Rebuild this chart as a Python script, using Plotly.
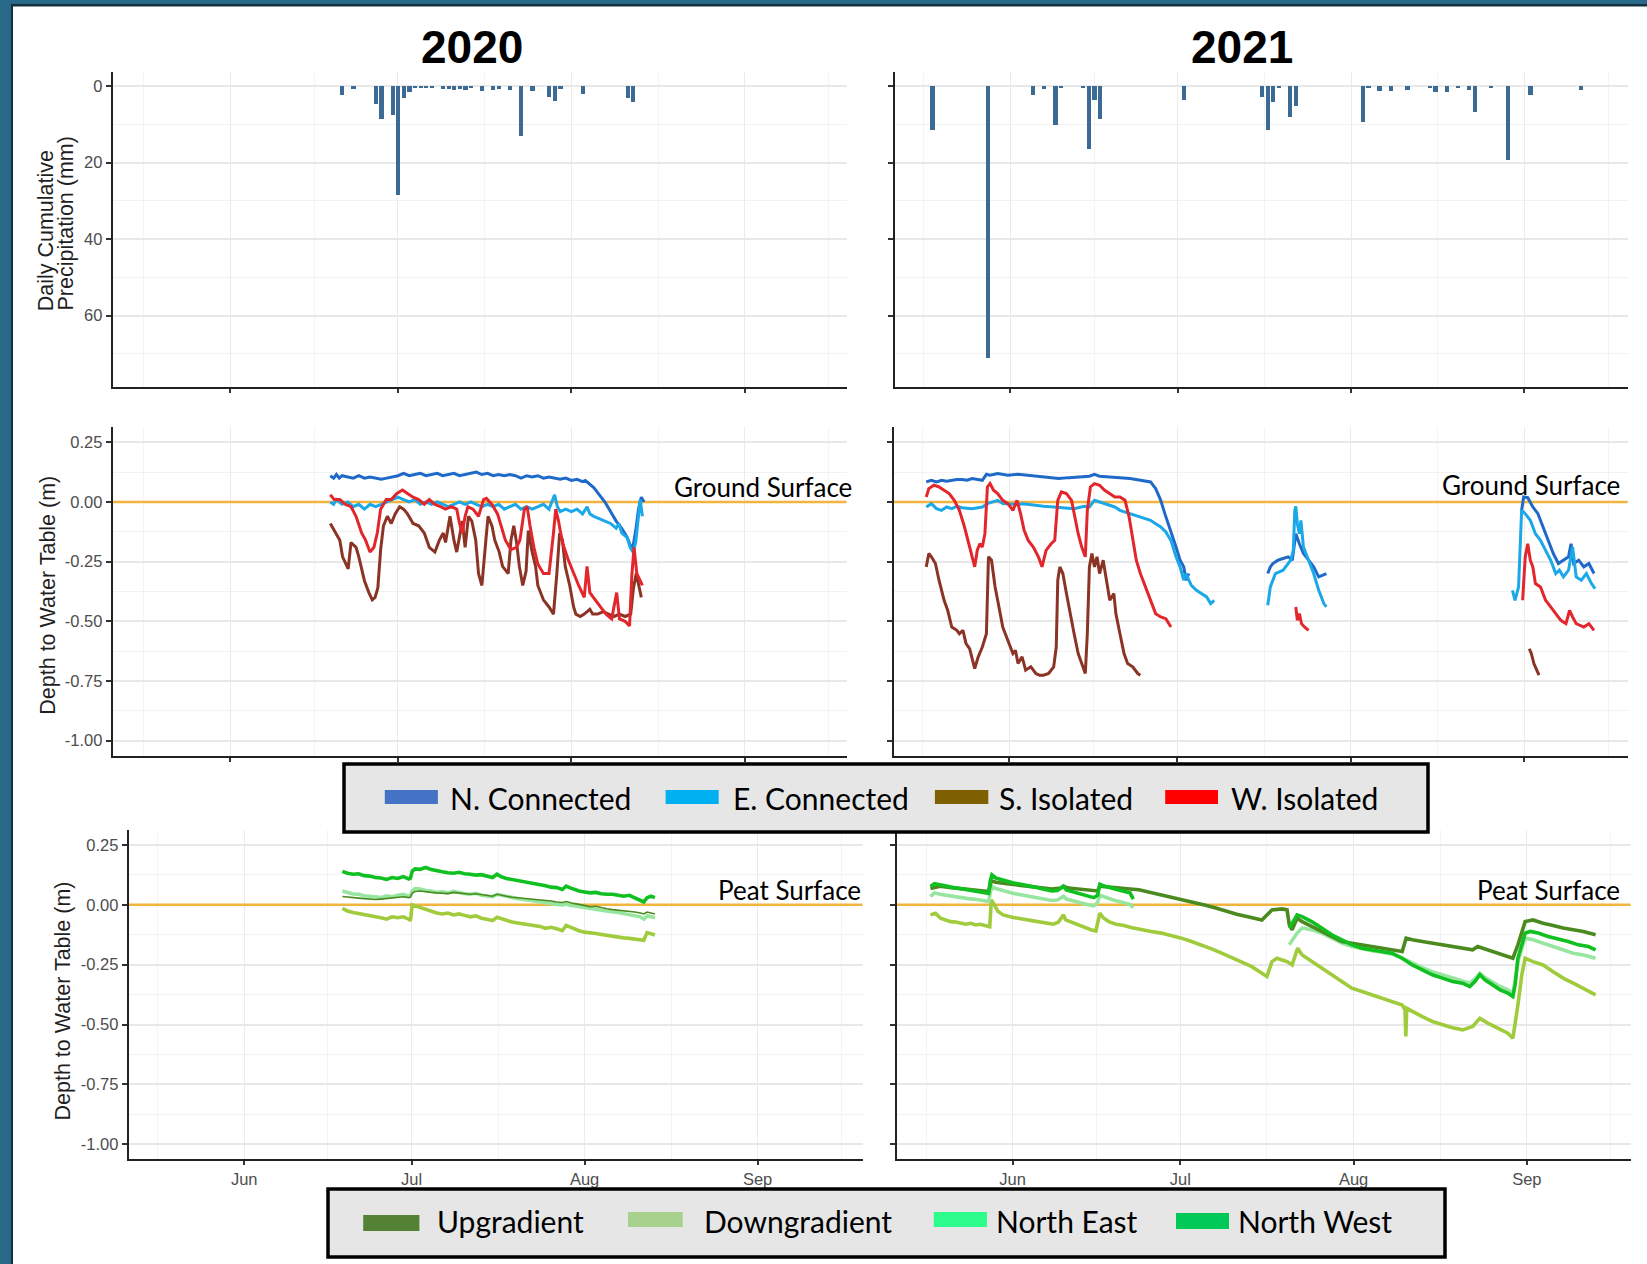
import plotly.graph_objects as go
from datetime import datetime, timedelta

# ---------------- daily cumulative precipitation (date, mm) ----------------
precip_2020 = [
    ("2020-06-21", 2.2), ("2020-06-23", 0.6), ("2020-06-27", 4.7), ("2020-06-28", 8.5),
    ("2020-06-30", 7.6), ("2020-07-01", 28.3), ("2020-07-02", 3.1), ("2020-07-03", 1.5),
    ("2020-07-04", 0.5), ("2020-07-05", 0.3), ("2020-07-06", 0.4), ("2020-07-07", 0.3),
    ("2020-07-09", 0.6), ("2020-07-10", 0.8), ("2020-07-11", 0.9), ("2020-07-12", 0.6),
    ("2020-07-13", 0.9), ("2020-07-14", 0.5), ("2020-07-16", 1.2), ("2020-07-18", 1.0),
    ("2020-07-19", 0.8), ("2020-07-21", 1.0), ("2020-07-23", 13.1), ("2020-07-25", 1.2),
    ("2020-07-28", 2.8), ("2020-07-29", 3.7), ("2020-07-30", 0.6), ("2020-08-03", 2.1),
    ("2020-08-11", 3.0), ("2020-08-12", 4.2),
]
precip_2021 = [
    ("2021-05-18", 11.3), ("2021-05-28", 70.9), ("2021-06-05", 2.2), ("2021-06-07", 0.6),
    ("2021-06-09", 10.2), ("2021-06-10", 0.35), ("2021-06-14", 0.35), ("2021-06-15", 16.3),
    ("2021-06-16", 3.5), ("2021-06-17", 8.5), ("2021-07-02", 3.5), ("2021-07-16", 2.8),
    ("2021-07-17", 11.5), ("2021-07-18", 4.1), ("2021-07-19", 0.3), ("2021-07-21", 7.9),
    ("2021-07-22", 5.2), ("2021-08-03", 9.3), ("2021-08-04", 0.3), ("2021-08-06", 1.2),
    ("2021-08-08", 1.2), ("2021-08-11", 1.0), ("2021-08-15", 0.3), ("2021-08-16", 1.5),
    ("2021-08-18", 1.5), ("2021-08-20", 0.3), ("2021-08-22", 0.9), ("2021-08-23", 6.8),
    ("2021-08-26", 0.3), ("2021-08-29", 19.2), ("2021-09-02", 2.2), ("2021-09-11", 1.0),
]

# ------------- depth to water table (m): (days after 1 June, value) -------------
# each series is a list of logger segments; gaps between segments are not joined

# ground-water wells
n_connected_2020 = [[
    (17.9, 0.11), (18.5, 0.10), (19.0, 0.115), (19.5, 0.10), (20, 0.11), (21, 0.105), (22, 0.10),
    (23, 0.11), (24, 0.10), (25, 0.105), (26, 0.10), (27, 0.095), (28, 0.10), (29, 0.105),
    (30, 0.11), (31, 0.12), (32, 0.11), (33, 0.115), (34, 0.12), (35, 0.11), (36, 0.115),
    (37, 0.12), (38, 0.11), (39, 0.115), (40, 0.12), (41, 0.11), (42, 0.115), (43, 0.12),
    (44, 0.125), (45, 0.115), (46, 0.12), (47, 0.11), (48, 0.115), (49, 0.11), (50, 0.115),
    (51, 0.11), (52, 0.10), (53, 0.11), (54, 0.105), (55, 0.11), (56, 0.10), (57, 0.105),
    (58, 0.10), (59, 0.095), (60, 0.10), (61, 0.09), (62, 0.095), (63, 0.085), (63.5, 0.09),
    (64, 0.08), (65, 0.06), (66, 0.03), (67, 0.0), (68, -0.04), (69, -0.08), (70, -0.11),
    (71, -0.15), (71.5, -0.18), (72, -0.19), (72.5, -0.12), (73, -0.03), (73.5, 0.02), (74, 0.0),
]]
e_connected_2020 = [[
    (17.9, 0.0), (18.5, -0.01), (19, 0.01), (20, -0.01), (21, 0.0), (22, -0.02), (23, -0.01),
    (24, -0.03), (25, -0.01), (26, -0.02), (27, -0.01), (28, 0.0), (29, 0.01), (30, 0.02),
    (31, 0.01), (32, 0.0), (33, 0.01), (34, -0.01), (35, 0.0), (36, -0.01), (37, 0.0),
    (38, -0.01), (39, -0.02), (40, -0.01), (41, 0.0), (42, -0.01), (43, 0.0), (44, -0.01),
    (45, -0.02), (46, -0.01), (47, -0.02), (48, -0.01), (49, -0.03), (50, -0.02), (51, -0.01),
    (52, -0.03), (53, -0.02), (54, -0.03), (55, -0.02), (56, -0.01), (57, -0.03), (58, 0.03),
    (58.5, -0.02), (59, -0.04), (60, -0.03), (61, -0.04), (62, -0.03), (63, -0.05), (63.8, -0.02),
    (64.3, -0.05), (65, -0.06), (66, -0.07), (67, -0.08), (68, -0.09), (69, -0.11), (69.5, -0.09),
    (70, -0.13), (71, -0.15), (71.5, -0.19), (72, -0.21), (72.5, -0.17), (73, -0.05), (73.3, 0.01),
    (73.7, -0.06),
]]
s_isolated_2020 = [[
    (17.9, -0.09), (18.6, -0.12), (19.6, -0.16), (20.1, -0.23), (21.1, -0.28), (21.6, -0.17),
    (22.5, -0.19), (23.0, -0.23), (24.0, -0.33), (24.8, -0.38), (25.4, -0.41), (25.9, -0.40),
    (26.4, -0.36), (26.9, -0.20), (27.4, -0.10), (28.1, -0.06), (28.8, -0.09), (29.5, -0.05),
    (30.3, -0.02), (31.0, -0.03), (31.7, -0.05), (32.7, -0.09), (33.7, -0.10), (34.7, -0.13),
    (35.6, -0.19), (36.6, -0.21), (37.4, -0.16), (38.1, -0.13), (38.5, -0.17), (39.3, -0.06),
    (40.0, -0.16), (40.5, -0.21), (41.5, -0.08), (42.0, -0.19), (42.6, -0.06), (43.2, -0.08),
    (43.9, -0.16), (44.4, -0.30), (45.0, -0.35), (45.6, -0.19), (46.1, -0.06), (46.8, -0.10),
    (47.3, -0.16), (48.1, -0.21), (48.7, -0.27), (49.7, -0.30), (50.2, -0.16), (50.7, -0.10),
    (51.2, -0.17), (51.7, -0.27), (52.3, -0.35), (52.9, -0.29), (53.3, -0.12), (53.9, -0.20),
    (54.6, -0.27), (55.0, -0.35), (56.0, -0.41), (57.0, -0.44), (57.8, -0.47), (58.4, -0.30),
    (58.9, -0.13), (59.4, -0.16), (59.9, -0.27), (60.7, -0.35), (61.4, -0.44), (61.8, -0.47),
    (62.6, -0.48), (63.3, -0.47), (64.3, -0.45), (64.8, -0.47), (65.7, -0.47), (66.7, -0.46),
    (67.7, -0.47), (68.6, -0.48), (69.6, -0.47), (70.6, -0.48), (71.6, -0.47), (72.1, -0.36),
    (72.6, -0.30), (73.1, -0.36), (73.5, -0.40),
]]
w_isolated_2020 = [[
    (17.9, 0.03), (18.6, 0.01), (19.6, 0.01), (20.6, -0.01), (21.6, -0.02), (22.5, -0.06),
    (23.5, -0.13), (24.2, -0.16), (25.0, -0.21), (25.7, -0.19), (26.3, -0.13), (26.9, -0.03),
    (27.9, 0.01), (28.8, 0.01), (29.8, 0.036), (30.8, 0.05), (31.7, 0.036), (32.7, 0.02),
    (33.7, 0.01), (34.7, -0.01), (35.6, 0.01), (36.6, -0.01), (37.6, -0.02), (38.5, -0.03),
    (39.5, -0.02), (40.5, -0.03), (41.0, -0.09), (41.5, -0.13), (42.0, -0.06), (42.5, -0.02),
    (43.4, -0.03), (44.4, -0.06), (45.3, 0.01), (45.8, 0.015), (46.8, -0.01), (47.8, -0.05),
    (48.3, -0.09), (49.2, -0.16), (50.2, -0.20), (51.2, -0.19), (51.8, -0.16), (52.6, -0.03),
    (53.1, -0.02), (53.6, -0.10), (54.3, -0.19), (55.0, -0.26), (56.0, -0.30), (57.0, -0.30),
    (57.8, -0.13), (58.2, -0.03), (58.7, -0.08), (59.4, -0.17), (60.4, -0.24), (61.4, -0.30),
    (62.3, -0.35), (63.3, -0.40), (63.8, -0.27), (64.3, -0.38), (65.2, -0.41), (66.2, -0.44),
    (67.2, -0.47), (68.2, -0.49), (69.1, -0.38), (69.6, -0.49), (70.6, -0.50), (71.4, -0.52),
    (71.8, -0.31), (72.2, -0.19), (72.7, -0.30), (73.3, -0.33), (73.7, -0.35),
]]

n_connected_2021 = [
    [(-14.85, 0.084), (-13.93, 0.091), (-13.02, 0.084), (-12.11, 0.091), (-11.2, 0.087),
     (-10.29, 0.091), (-9.38, 0.094), (-8.47, 0.094), (-7.56, 0.091), (-6.65, 0.098),
     (-5.74, 0.094), (-4.83, 0.091), (-4.10, 0.116), (-3.46, 0.112), (-2.09, 0.119),
     (-0.27, 0.112), (1.55, 0.116), (3.37, 0.112), (5.19, 0.108), (7.01, 0.105), (8.83, 0.098),
     (10.66, 0.102), (12.48, 0.105), (14.30, 0.108), (15.21, 0.116), (16.12, 0.108),
     (17.94, 0.105), (19.76, 0.102), (21.58, 0.098), (23.41, 0.091), (25.23, 0.084),
     (26.14, 0.056), (27.05, 0.007), (27.78, -0.049), (28.42, -0.091), (29.05, -0.133),
     (29.78, -0.189), (30.51, -0.244), (31.15, -0.272), (31.60, -0.328), (32.06, -0.300)],
    [(46.17, -0.300), (46.63, -0.272), (47.09, -0.258), (48.00, -0.244), (48.91, -0.237),
     (49.82, -0.230), (50.55, -0.244), (51.18, -0.133), (51.82, -0.175), (52.55, -0.216),
     (53.46, -0.244), (54.37, -0.272), (55.28, -0.314), (56.65, -0.300)],
    [(91.53, -0.035), (91.89, 0.021), (92.62, 0.018), (93.53, -0.021), (94.44, -0.049),
     (95.36, -0.105), (96.27, -0.161), (97.18, -0.216), (98.09, -0.258), (99.00, -0.244),
     (99.91, -0.230), (100.36, -0.175), (100.82, -0.258), (101.73, -0.244), (102.64, -0.272),
     (103.55, -0.258), (104.46, -0.300)],
]
e_connected_2021 = [
    [(-14.85, -0.021), (-13.93, -0.007), (-13.02, -0.028), (-12.11, -0.035), (-11.2, -0.021),
     (-10.29, -0.028), (-9.38, -0.018), (-8.47, -0.024), (-6.65, -0.028), (-4.83, -0.021),
     (-3.92, -0.007), (-3.01, 0.0), (-2.09, 0.007), (-1.18, -0.007), (0.64, -0.010),
     (2.46, -0.007), (4.28, -0.014), (6.10, -0.018), (7.92, -0.021), (9.74, -0.024),
     (11.57, -0.028), (13.39, -0.018), (14.30, -0.021), (15.21, 0.007), (16.12, 0.0),
     (17.03, -0.007), (17.94, -0.014), (18.85, -0.021), (19.76, -0.035), (20.67, -0.042),
     (21.58, -0.049), (22.50, -0.056), (23.41, -0.063), (24.32, -0.070), (25.23, -0.077),
     (26.14, -0.091), (27.05, -0.105), (27.96, -0.126), (28.87, -0.161), (29.78, -0.230),
     (30.51, -0.272), (31.15, -0.328), (31.60, -0.300), (32.06, -0.328), (32.51, -0.349),
     (33.42, -0.370), (34.34, -0.384), (35.25, -0.398), (35.97, -0.426), (36.61, -0.412)],
    [(46.17, -0.433), (46.63, -0.356), (47.54, -0.300), (48.91, -0.286), (50.27, -0.244),
     (50.73, -0.203), (51.00, -0.035), (51.18, -0.018), (51.46, -0.091), (51.82, -0.133),
     (52.09, -0.077), (52.55, -0.189), (53.46, -0.244), (54.37, -0.300), (55.28, -0.370),
     (56.19, -0.426), (56.65, -0.440)],
    [(89.89, -0.370), (90.35, -0.412), (90.98, -0.356), (91.53, -0.035), (92.17, -0.049),
     (93.08, -0.077), (93.99, -0.133), (94.90, -0.161), (95.81, -0.203), (96.72, -0.244),
     (97.63, -0.300), (98.27, -0.286), (99.00, -0.314), (99.91, -0.286), (100.64, -0.189),
     (101.28, -0.314), (102.19, -0.328), (103.10, -0.300), (104.01, -0.342), (104.64, -0.363)],
]
s_isolated_2021 = [
    [(-14.85, -0.272), (-14.39, -0.216), (-13.93, -0.230), (-13.21, -0.258), (-12.57, -0.328),
     (-11.66, -0.412), (-11.02, -0.454), (-10.29, -0.524), (-9.38, -0.538), (-8.93, -0.552),
     (-8.29, -0.538), (-7.74, -0.594), (-7.10, -0.615), (-6.19, -0.698), (-5.56, -0.649),
     (-4.83, -0.608), (-4.10, -0.552), (-3.92, -0.356), (-3.73, -0.230), (-3.19, -0.244),
     (-2.55, -0.356), (-2.09, -0.412), (-1.64, -0.468), (-1.18, -0.524), (-0.73, -0.552),
     (-0.09, -0.594), (0.64, -0.635), (1.09, -0.622), (1.55, -0.677), (2.28, -0.649),
     (2.91, -0.705), (3.83, -0.691), (4.74, -0.719), (5.37, -0.726), (6.10, -0.726),
     (7.01, -0.719), (7.92, -0.691), (8.38, -0.608), (8.65, -0.328), (9.02, -0.272),
     (9.56, -0.300), (10.20, -0.384), (10.84, -0.468), (11.57, -0.552), (12.30, -0.635),
     (12.93, -0.677), (13.57, -0.719), (13.93, -0.552), (14.30, -0.272), (14.75, -0.216),
     (15.21, -0.272), (15.66, -0.230), (16.12, -0.300), (16.76, -0.244), (17.49, -0.342),
     (17.94, -0.412), (18.67, -0.384), (19.03, -0.468), (19.76, -0.552), (20.49, -0.635),
     (21.13, -0.677), (22.04, -0.691), (22.95, -0.719), (23.41, -0.726)],
    [(92.90, -0.615), (93.26, -0.635), (93.72, -0.677), (94.26, -0.705), (94.63, -0.726)],
]
w_isolated_2021 = [
    [(-14.85, 0.021), (-14.39, 0.056), (-13.48, 0.070), (-12.57, 0.063), (-11.66, 0.049),
     (-10.75, 0.035), (-9.84, 0.007), (-8.93, -0.035), (-8.01, -0.105), (-7.38, -0.161),
     (-6.65, -0.230), (-6.19, -0.272), (-5.74, -0.203), (-5.28, -0.175), (-4.83, -0.189),
     (-4.37, -0.133), (-3.92, 0.063), (-3.46, 0.077), (-2.82, 0.049), (-2.09, 0.035),
     (-1.18, 0.007), (-0.27, -0.007), (0.64, -0.035), (1.37, 0.007), (2.00, -0.049),
     (2.64, -0.119), (3.37, -0.161), (4.28, -0.189), (5.19, -0.230), (5.83, -0.272),
     (6.56, -0.203), (7.47, -0.175), (8.11, -0.161), (8.65, 0.007), (9.29, 0.042),
     (10.20, 0.035), (11.11, 0.007), (11.57, -0.049), (12.30, -0.133), (12.93, -0.189),
     (13.57, -0.230), (13.93, -0.035), (14.48, 0.063), (15.21, 0.077), (16.12, 0.070),
     (17.03, 0.049), (17.94, 0.035), (18.85, 0.021), (19.76, 0.021), (20.67, 0.007),
     (21.40, -0.063), (22.04, -0.161), (22.68, -0.244), (23.41, -0.300), (24.32, -0.356),
     (25.23, -0.412), (26.14, -0.468), (27.05, -0.482), (27.96, -0.489), (28.87, -0.524)],
    [(51.18, -0.440), (51.46, -0.496), (51.82, -0.468), (52.19, -0.510), (52.73, -0.524),
     (53.46, -0.538)],
    [(91.71, -0.412), (92.17, -0.230), (92.62, -0.175), (93.08, -0.244), (93.53, -0.272),
     (93.99, -0.342), (94.90, -0.356), (95.81, -0.412), (96.72, -0.440), (97.63, -0.468),
     (98.54, -0.496), (99.45, -0.510), (100.09, -0.454), (100.64, -0.482), (101.28, -0.510),
     (102.64, -0.524), (103.55, -0.510), (104.46, -0.538)],
]

# peat wells
upgradient_2020 = [[
    (17.6, 0.035), (18.5, 0.032), (19.5, 0.030), (20.5, 0.028), (21.5, 0.026), (22.5, 0.024),
    (23.5, 0.022), (24.5, 0.024), (25.5, 0.026), (26.5, 0.028), (27.5, 0.030), (28.5, 0.034),
    (29.5, 0.030), (29.8, 0.032), (30.1, 0.048), (30.6, 0.056), (31.5, 0.058), (32.5, 0.054),
    (33.5, 0.052), (34.5, 0.050), (35.5, 0.050), (36.5, 0.047), (37.5, 0.052), (38.5, 0.050),
    (39.5, 0.048), (40.5, 0.044), (41.5, 0.046), (42.5, 0.042), (43.5, 0.040), (44.5, 0.036),
    (45.3, 0.044), (46, 0.040), (47, 0.036), (48, 0.032), (49, 0.030), (50, 0.026), (51, 0.024),
    (52, 0.022), (53, 0.020), (54, 0.018), (55, 0.016), (56, 0.012), (57, 0.010), (57.7, 0.014),
    (58.3, 0.010), (59, 0.006), (60, 0.002), (61, -0.004), (62, -0.008), (63, -0.006),
    (64, -0.012), (65, -0.016), (66, -0.020), (67, -0.022), (68, -0.025), (69, -0.028),
    (70, -0.030), (71, -0.034), (71.6, -0.038), (72.2, -0.030), (72.9, -0.034), (73.6, -0.038),
]]
downgradient_2020 = [[
    (17.6, -0.015), (18.5, -0.026), (19.5, -0.032), (20.5, -0.036), (21.5, -0.040), (22.5, -0.046),
    (23.5, -0.050), (24.5, -0.054), (25.5, -0.060), (26.5, -0.050), (27.5, -0.054), (28.5, -0.050),
    (29.5, -0.060), (29.8, -0.066), (30.1, 0.000), (30.6, -0.004), (31.5, -0.012), (32.5, -0.018),
    (33.5, -0.028), (34.5, -0.034), (35.5, -0.038), (36.5, -0.034), (37.5, -0.042), (38.5, -0.038),
    (39.5, -0.044), (40.5, -0.050), (41.5, -0.046), (42.5, -0.056), (43.5, -0.060), (44.5, -0.066),
    (45.3, -0.052), (46, -0.058), (47, -0.066), (48, -0.072), (49, -0.076), (50, -0.080),
    (51, -0.084), (52, -0.088), (53, -0.090), (54, -0.098), (55, -0.094), (56, -0.100),
    (57, -0.108), (57.7, -0.086), (58.3, -0.092), (59, -0.100), (60, -0.108), (61, -0.114),
    (62, -0.116), (63, -0.120), (64, -0.124), (65, -0.128), (66, -0.130), (67, -0.134),
    (68, -0.138), (69, -0.140), (70, -0.144), (71, -0.146), (71.6, -0.148), (72.2, -0.116),
    (72.9, -0.122), (73.6, -0.126),
]]
north_east_2020 = [[
    (17.6, 0.058), (18.5, 0.050), (19.5, 0.045), (20.5, 0.044), (21.5, 0.038), (22.5, 0.036),
    (23.5, 0.033), (24.5, 0.030), (25.5, 0.038), (26.5, 0.034), (27.5, 0.040), (28.5, 0.044),
    (29.5, 0.036), (29.8, 0.040), (30.1, 0.058), (30.6, 0.068), (31.5, 0.066), (32.5, 0.060),
    (33.5, 0.058), (34.5, 0.052), (35.5, 0.054), (36.5, 0.050), (37.5, 0.056), (38.5, 0.050),
    (39.5, 0.046), (40.5, 0.044), (41.5, 0.048), (42.5, 0.040), (43.5, 0.038), (44.5, 0.034),
    (45.3, 0.044), (46, 0.040), (47, 0.034), (48, 0.030), (49, 0.026), (50, 0.022), (51, 0.020),
    (52, 0.016), (53, 0.012), (54, 0.010), (55, 0.006), (56, 0.002), (57, 0.000), (57.7, 0.004),
    (58.3, -0.002), (59, -0.004), (60, -0.008), (61, -0.012), (62, -0.016), (63, -0.018),
    (64, -0.022), (65, -0.026), (66, -0.030), (67, -0.032), (68, -0.036), (69, -0.040),
    (70, -0.044), (71, -0.050), (71.6, -0.060), (72.2, -0.046), (72.9, -0.050), (73.6, -0.054),
]]
north_west_2020 = [[
    (17.6, 0.140), (18.5, 0.132), (19.5, 0.128), (20.5, 0.130), (21.5, 0.122), (22.5, 0.120),
    (23.5, 0.114), (24.5, 0.112), (25.5, 0.106), (26.5, 0.114), (27.5, 0.110), (28.5, 0.118),
    (29.5, 0.108), (29.8, 0.112), (30.1, 0.140), (30.6, 0.150), (31.5, 0.148), (32.5, 0.156),
    (33.5, 0.148), (34.5, 0.142), (35.5, 0.138), (36.5, 0.134), (37.5, 0.132), (38.5, 0.136),
    (39.5, 0.130), (40.5, 0.128), (41.5, 0.124), (42.5, 0.126), (43.5, 0.118), (44.5, 0.114),
    (45.3, 0.128), (46, 0.118), (47, 0.110), (48, 0.106), (49, 0.100), (50, 0.096), (51, 0.093),
    (52, 0.090), (53, 0.086), (54, 0.080), (55, 0.074), (56, 0.072), (57, 0.064), (57.7, 0.078),
    (58.3, 0.072), (59, 0.065), (60, 0.058), (61, 0.054), (62, 0.050), (63, 0.052), (64, 0.046),
    (65, 0.044), (66, 0.044), (67, 0.040), (68, 0.036), (69, 0.040), (70, 0.030), (71, 0.022),
    (71.6, 0.012), (72.2, 0.030), (72.9, 0.036), (73.6, 0.030),
]]

upgradient_2021 = [[
    (-14.7, 0.068), (-13, 0.078), (-11, 0.072), (-9, 0.068), (-7, 0.064), (-5, 0.060),
    (-4.3, 0.056), (-3.8, 0.100), (-3, 0.094), (-1, 0.088), (1, 0.082), (3, 0.076), (5, 0.070),
    (7, 0.066), (8.6, 0.070), (9.1, 0.078), (10, 0.070), (12, 0.066), (14, 0.060), (15.2, 0.058),
    (15.6, 0.078), (17, 0.074), (19, 0.070), (21, 0.066), (22.6, 0.063), (23.9, 0.056),
    (25.7, 0.049), (27.5, 0.039), (29.3, 0.028), (31.1, 0.017), (32.9, 0.007), (34.7, -0.003),
    (36.5, -0.014), (38.3, -0.028), (40.1, -0.039), (41.9, -0.049), (43.7, -0.056), (44.6, -0.063),
    (45.5, -0.042), (46.4, -0.021), (48.2, -0.017), (49.1, -0.021), (49.5, -0.084), (50.0, -0.104),
    (50.9, -0.056), (51.8, -0.070), (53.5, -0.090), (55.3, -0.111), (57.1, -0.132), (58.9, -0.153),
    (60.7, -0.160), (62.5, -0.167), (64.3, -0.174), (66.1, -0.181), (67.9, -0.188), (69.7, -0.195),
    (70.4, -0.139), (71.5, -0.146), (73.3, -0.153), (75.1, -0.160), (76.9, -0.167), (78.7, -0.174),
    (80.5, -0.181), (82.3, -0.188), (83.2, -0.174), (84.1, -0.181), (85.9, -0.195), (87.7, -0.209),
    (89.5, -0.223), (90.4, -0.167), (91.7, -0.070), (93.1, -0.063), (94.9, -0.077), (96.7, -0.086),
    (98.5, -0.097), (100.3, -0.104), (102.1, -0.111), (104.3, -0.125),
]]
downgradient_2021 = [[
    (-14.7, -0.042), (-13.8, -0.035), (-12.9, -0.056), (-12.0, -0.063), (-11.1, -0.070),
    (-10.2, -0.072), (-9.3, -0.077), (-8.4, -0.081), (-7.5, -0.077), (-6.6, -0.084),
    (-5.8, -0.081), (-4.9, -0.086), (-4.1, -0.091), (-3.8, 0.021), (-3.2, -0.007), (-2.6, -0.028),
    (-1.7, -0.042), (-0.8, -0.049), (0.1, -0.053), (1.0, -0.056), (1.9, -0.058), (2.8, -0.063),
    (3.7, -0.067), (4.6, -0.070), (5.5, -0.072), (6.4, -0.077), (7.3, -0.081), (8.2, -0.072),
    (9.1, -0.042), (9.5, -0.063), (10.4, -0.072), (11.3, -0.081), (12.2, -0.086), (13.1, -0.095),
    (14.0, -0.104), (14.9, -0.109), (15.6, -0.035), (16.3, -0.056), (17.2, -0.070), (18.5, -0.081),
    (19.9, -0.086), (21.2, -0.095), (23.0, -0.104), (24.8, -0.111), (26.6, -0.118), (28.4, -0.128),
    (30.2, -0.139), (32.0, -0.153), (33.8, -0.167), (35.6, -0.184), (37.4, -0.202), (39.2, -0.220),
    (41.0, -0.237), (42.8, -0.258), (44.6, -0.286), (45.5, -0.299), (46.4, -0.237), (47.3, -0.223),
    (48.2, -0.230), (49.1, -0.237), (50.0, -0.251), (51.0, -0.181), (51.8, -0.209), (53.5, -0.237),
    (55.3, -0.265), (57.1, -0.292), (58.9, -0.320), (60.7, -0.348), (62.5, -0.362), (64.3, -0.376),
    (66.1, -0.390), (67.9, -0.404), (69.7, -0.418), (70.2, -0.439), (70.35, -0.550), (70.5, -0.432),
    (71.5, -0.446), (73.3, -0.467), (75.1, -0.487), (76.9, -0.501), (78.7, -0.513), (80.5, -0.522),
    (82.3, -0.508), (83.6, -0.474), (85.0, -0.494), (86.8, -0.515), (88.6, -0.536), (89.5, -0.557),
    (89.9, -0.501), (90.4, -0.418), (91.1, -0.292), (91.7, -0.223), (93.1, -0.237), (94.9, -0.251),
    (96.7, -0.279), (98.5, -0.306), (100.3, -0.327), (102.1, -0.348), (104.3, -0.376),
]]
north_east_2021 = [
    [(-14.7, 0.035), (-14.0, 0.050), (-13.0, 0.044), (-12.0, 0.040), (-11.0, 0.036), (-10.0, 0.032),
     (-9.0, 0.030), (-8.0, 0.026), (-7.0, 0.024), (-6.0, 0.020), (-5.0, 0.018), (-4.3, 0.014),
     (-4.0, 0.050), (-3.7, 0.077), (-3.0, 0.068), (-2.0, 0.060), (-1.0, 0.054), (0.0, 0.048),
     (1.0, 0.044), (2.0, 0.040), (3.0, 0.034), (4.0, 0.030), (5.0, 0.026), (6.0, 0.022),
     (7.0, 0.018), (8.0, 0.020), (8.6, 0.030), (9.1, 0.036), (9.6, 0.024), (10.5, 0.018),
     (11.5, 0.012), (12.5, 0.006), (13.5, 0.000), (14.5, -0.004), (15.2, 0.010), (15.6, 0.040),
     (16.2, 0.034), (17.0, 0.026), (18.0, 0.020), (19.0, 0.014), (20.0, 0.008), (21.0, 0.002),
     (21.6, -0.012)],
    [(49.5, -0.167), (50.1, -0.146), (50.9, -0.118), (51.8, -0.097), (53.5, -0.104), (55.3, -0.118),
     (57.1, -0.139), (58.9, -0.160), (60.7, -0.174), (62.5, -0.184), (64.3, -0.192), (66.1, -0.198),
     (67.9, -0.206), (69.7, -0.223), (71.5, -0.244), (73.3, -0.262), (75.1, -0.279), (76.9, -0.292),
     (78.7, -0.306), (80.5, -0.318), (81.8, -0.327), (82.7, -0.309), (83.6, -0.286), (84.5, -0.304),
     (85.9, -0.323), (87.2, -0.341), (88.6, -0.355), (89.5, -0.369), (89.9, -0.320), (90.4, -0.237),
     (91.1, -0.181), (91.7, -0.139), (93.1, -0.146), (94.9, -0.160), (96.7, -0.174), (98.5, -0.188),
     (100.3, -0.202), (102.1, -0.209), (104.3, -0.223)],
]
north_west_2021 = [
    [(-14.7, 0.077), (-14.0, 0.088), (-13.0, 0.084), (-12.0, 0.078), (-11.0, 0.074), (-10.0, 0.070),
     (-9.0, 0.066), (-8.0, 0.064), (-7.0, 0.060), (-6.0, 0.056), (-5.0, 0.052), (-4.3, 0.048),
     (-4.0, 0.100), (-3.7, 0.125), (-3.0, 0.112), (-2.0, 0.104), (-1.0, 0.098), (0.0, 0.092),
     (1.0, 0.088), (2.0, 0.084), (3.0, 0.078), (4.0, 0.074), (5.0, 0.068), (6.0, 0.064),
     (7.0, 0.058), (8.0, 0.060), (8.6, 0.070), (9.1, 0.078), (9.6, 0.062), (10.5, 0.056),
     (11.5, 0.050), (12.5, 0.044), (13.5, 0.036), (14.5, 0.030), (15.2, 0.040), (15.6, 0.086),
     (16.2, 0.080), (17.0, 0.074), (18.0, 0.068), (19.0, 0.062), (20.0, 0.056), (21.0, 0.050),
     (21.6, 0.024)],
    [(49.5, -0.097), (50.9, -0.042), (51.8, -0.049), (53.5, -0.070), (55.3, -0.097), (57.1, -0.125),
     (58.9, -0.146), (60.7, -0.167), (62.5, -0.181), (64.3, -0.188), (66.1, -0.195), (67.9, -0.202),
     (69.7, -0.223), (71.5, -0.251), (73.3, -0.272), (75.1, -0.292), (76.9, -0.306), (78.7, -0.320),
     (80.5, -0.327), (81.8, -0.341), (82.7, -0.320), (83.6, -0.292), (84.5, -0.313), (85.9, -0.334),
     (87.2, -0.355), (88.6, -0.369), (89.5, -0.383), (89.9, -0.334), (90.4, -0.223), (91.1, -0.167),
     (91.7, -0.118), (92.6, -0.111), (94.0, -0.118), (95.8, -0.132), (97.6, -0.142), (99.4, -0.153),
     (101.2, -0.167), (103.0, -0.174), (104.3, -0.188)],
]

month_labels = ["Jun", "Jul", "Aug", "Sep"]
precip_ticks = [0, 20, 40, 60]
depth_ticks = [0.25, 0.0, -0.25, -0.50, -0.75, -1.00]
depth_tick_labels = ["0.25", "0.00", "-0.25", "-0.50", "-0.75", "-1.00"]

# ------------------------------------------------------------------
W, H = 1647, 1264


def px(x):
    return x / W


def py(y):
    return 1 - y / H


def series_xy(year, segments):
    base = datetime(year, 6, 1)
    xs, ys = [], []
    for k, seg in enumerate(segments):
        if k:
            xs.append(None)
            ys.append(None)
        for d, v in seg:
            xs.append(base + timedelta(days=d))
            ys.append(v)
    return xs, ys


# panel layout in pixels: (x0, x1), (y0, y1), x range in days around 1 June
panels = {
    1: dict(year=2020, xd=(112.7, 846.6), yd=(71.7, 387.3), xr=(-21.0, 110.2), kind="precip", lab=False, ylab=True),
    2: dict(year=2021, xd=(894.5, 1627.8), yd=(71.7, 387.3), xr=(-20.7, 110.5), kind="precip", lab=False, ylab=False),
    3: dict(year=2020, xd=(112.7, 846.6), yd=(427.4, 755.5), xr=(-21.0, 110.2), kind="depth", lab=False, ylab=True),
    4: dict(year=2021, xd=(893.5, 1627.8), yd=(427.4, 755.5), xr=(-20.7, 110.5), kind="depth", lab=False, ylab=False),
    5: dict(year=2020, xd=(128.7, 862.5), yd=(830.0, 1159.3), xr=(-20.7, 110.8), kind="depth", lab=True, ylab=True),
    6: dict(year=2021, xd=(896.6, 1630.8), yd=(830.0, 1159.3), xr=(-20.76, 110.6), kind="depth", lab=True, ylab=False),
}

fig = go.Figure()
layout_axes = {}
axis_line = "#222222"
tick_font = dict(family="Liberation Sans, Arial, sans-serif", size=16.5, color="#4d4d4d")

for i, p in panels.items():
    sfx = "" if i == 1 else str(i)
    yr = p["year"]
    base = datetime(yr, 6, 1)
    majors = [datetime(yr, m, 1) for m in (6, 7, 8, 9)]
    minors = [datetime(yr, 5, 16, 12), datetime(yr, 6, 16), datetime(yr, 7, 16, 12),
              datetime(yr, 8, 16, 12), datetime(yr, 9, 16)]
    layout_axes["xaxis" + sfx] = dict(
        domain=[px(p["xd"][0]), px(p["xd"][1])], anchor="y" + sfx, type="date",
        range=[base + timedelta(days=p["xr"][0]), base + timedelta(days=p["xr"][1])],
        tickmode="array", tickvals=majors, ticktext=month_labels, showticklabels=p["lab"],
        ticks="outside", ticklen=4, tickwidth=1.5, tickcolor="#333333",
        showline=True, linecolor=axis_line, linewidth=2,
        showgrid=True, gridcolor="#ebebeb", gridwidth=1.2,
        minor=dict(tickmode="array", tickvals=minors, showgrid=True, gridcolor="#f4f4f4",
                   gridwidth=0.8, ticks=""),
        zeroline=False, tickfont=tick_font, fixedrange=True,
    )
    if p["kind"] == "precip":
        yax = dict(range=[78.75, -3.75], tickvals=precip_ticks,
                   ticktext=[str(v) for v in precip_ticks],
                   minor=dict(tickmode="array", tickvals=[10, 30, 50, 70], showgrid=True,
                              gridcolor="#f2f2f2", gridwidth=1, ticks=""))
    else:
        yax = dict(range=[-1.0625, 0.3125], tickvals=depth_ticks, ticktext=depth_tick_labels,
                   minor=dict(tickmode="array", tickvals=[0.125, -0.125, -0.375, -0.625, -0.875],
                              showgrid=True, gridcolor="#f2f2f2", gridwidth=1, ticks=""))
    yax.update(
        domain=[py(p["yd"][1]), py(p["yd"][0])], anchor="x" + sfx, tickmode="array",
        showticklabels=p["ylab"], ticks="outside", ticklen=5, tickwidth=1.5, tickcolor="#333333",
        showline=True, linecolor=axis_line, linewidth=2,
        showgrid=True, gridcolor="#e8e8e8", gridwidth=1.8, zeroline=False,
        tickfont=tick_font, fixedrange=True,
    )
    layout_axes["yaxis" + sfx] = yax

    if p["kind"] == "depth":
        # surface reference line at zero depth, across the whole panel
        fig.add_trace(go.Scatter(
            x=[base + timedelta(days=p["xr"][0]), base + timedelta(days=p["xr"][1])], y=[0, 0],
            mode="lines", line=dict(color="#f2b43e", width=2.5), hoverinfo="skip",
            xaxis="x" + sfx, yaxis="y" + sfx, showlegend=False))

# precipitation bars
bar_color = "#3b6a94"
for i, data in ((1, precip_2020), (2, precip_2021)):
    sfx = "" if i == 1 else str(i)
    fig.add_trace(go.Bar(
        x=[d for d, _ in data], y=[v for _, v in data], width=0.75 * 86400000,
        marker=dict(color=bar_color, line=dict(width=0)), name="Precipitation",
        xaxis="x" + sfx, yaxis="y" + sfx, showlegend=False))

# ground-water wells
gw_colors = {"N. Connected": "#1f69c9", "E. Connected": "#1ba8e8",
             "S. Isolated": "#8b3426", "W. Isolated": "#e3262c"}
for i, yr, sets in ((3, 2020, (n_connected_2020, e_connected_2020, s_isolated_2020, w_isolated_2020)),
                    (4, 2021, (n_connected_2021, e_connected_2021, s_isolated_2021, w_isolated_2021))):
    sfx = str(i)
    for (name, col), segs in zip(gw_colors.items(), sets):
        xs, ys = series_xy(yr, segs)
        fig.add_trace(go.Scatter(x=xs, y=ys, mode="lines", name=name,
                                 line=dict(color=col, width=3), connectgaps=False,
                                 xaxis="x" + sfx, yaxis="y" + sfx, showlegend=False))

# peat wells (drawing order: back to front)
peat_colors = {"Downgradient": "#9fcb3c", "North East": "#97e69f",
               "Upgradient": "#4b8a1f", "North West": "#10c020"}
peat_sets = [
    (5, 2020, [("Downgradient", downgradient_2020), ("North East", north_east_2020),
               ("North West", north_west_2020), ("Upgradient", upgradient_2020)]),
    (6, 2021, [("Downgradient", downgradient_2021), ("North East", north_east_2021),
               ("Upgradient", upgradient_2021), ("North West", north_west_2021)]),
]
for i, yr, items in peat_sets:
    sfx = str(i)
    for name, segs in items:
        width = 1.6 if (yr == 2020 and name == "Upgradient") else 3.6
        xs, ys = series_xy(yr, segs)
        fig.add_trace(go.Scatter(x=xs, y=ys, mode="lines", name=name,
                                 line=dict(color=peat_colors[name], width=width), connectgaps=False,
                                 xaxis="x" + sfx, yaxis="y" + sfx, showlegend=False))

# ---------------- annotations ----------------
ann = []
title_font = dict(family="Liberation Sans, Arial, sans-serif", size=46, color="#000000")
for txt, x in (("<b>2020</b>", 471.5), ("<b>2021</b>", 1241.5)):
    ann.append(dict(text=txt, x=px(x), y=py(46.7), xref="paper", yref="paper",
                    xanchor="center", yanchor="middle", showarrow=False, font=title_font))

ytitle_font = dict(family="Liberation Sans, Arial, sans-serif", size=21.5, color="#1f1f1f")
for txt, x in (("Daily Cumulative", 45.8), ("Precipitation (mm)", 65.5)):
    ann.append(dict(text=txt, x=px(x), y=py(313), xref="paper", yref="paper", textangle=-90,
                    xanchor="center", yanchor="bottom", showarrow=False, font=ytitle_font))
for x, y in ((47.7, 595.0), (62.7, 1000.8)):
    ann.append(dict(text="Depth to Water Table (m)", x=px(x), y=py(y), xref="paper", yref="paper",
                    textangle=-90, xanchor="center", yanchor="middle", showarrow=False,
                    font=ytitle_font))

label_font = dict(family="Lato, Noto Sans, sans-serif", size=26, color="#000000")
for txt, x, y, anchor in (("Ground Surface", 672, 487, "left"), ("Ground Surface", 1622, 485, "right"),
                          ("Peat Surface", 716, 890, "left"), ("Peat Surface", 1622, 890, "right")):
    ann.append(dict(text=txt, x=px(x), y=py(y), xref="paper", yref="paper",
                    xanchor=anchor, yanchor="middle", showarrow=False, font=label_font))

# ---------------- custom legends ----------------
shapes = []
legend_font = dict(family="Lato, Noto Sans, sans-serif", size=30, color="#000000")
legends = [
    dict(box=(344, 764, 1428, 832), text_y=798,
         items=[("N. Connected", "#4472c4", 384.8, 437.9, 790, 804, 447.7),
                ("E. Connected", "#00b0f0", 665.6, 718.7, 790, 804, 731.0),
                ("S. Isolated", "#7f6000", 934.9, 988.3, 790, 804, 997.4),
                ("W. Isolated", "#ff0000", 1165.2, 1218.0, 790, 804, 1228.8)]),
    dict(box=(328, 1189, 1445, 1257), text_y=1221,
         items=[("Upgradient", "#548235", 363.2, 419.4, 1215, 1231, 435.0),
                ("Downgradient", "#a9d18e", 628.0, 682.7, 1212, 1227, 701.8),
                ("North East", "#2cfc8c", 933.8, 987.0, 1212, 1227, 993.6),
                ("North West", "#00c957", 1176.0, 1229.0, 1213, 1229, 1236.4)]),
]
for lg in legends:
    x0, y0, x1, y1 = lg["box"]
    shapes.append(dict(type="rect", xref="paper", yref="paper", x0=px(x0), x1=px(x1),
                       y0=py(y1), y1=py(y0), fillcolor="#e6e6e6",
                       line=dict(color="#000000", width=3.5), layer="above"))
    for name, col, sx0, sx1, sy0, sy1, tx in lg["items"]:
        shapes.append(dict(type="rect", xref="paper", yref="paper", x0=px(sx0), x1=px(sx1),
                           y0=py(sy1), y1=py(sy0), fillcolor=col,
                           line=dict(width=0), layer="above"))
        ann.append(dict(text=name, x=px(tx), y=py(lg["text_y"]), xref="paper", yref="paper",
                        xanchor="left", yanchor="middle", showarrow=False, font=legend_font))

# page frame along the left and top edges
frame = "#28698a"
edge = "#15303f"
shapes += [
    dict(type="rect", xref="paper", yref="paper", x0=0, x1=px(11), y0=0, y1=1,
         fillcolor=frame, line=dict(width=0), layer="above"),
    dict(type="rect", xref="paper", yref="paper", x0=0, x1=1, y0=py(4), y1=1,
         fillcolor=frame, line=dict(width=0), layer="above"),
    dict(type="rect", xref="paper", yref="paper", x0=px(11), x1=px(13), y0=0, y1=py(4),
         fillcolor=edge, line=dict(width=0), layer="above"),
    dict(type="rect", xref="paper", yref="paper", x0=px(11), x1=1, y0=py(6.5), y1=py(4),
         fillcolor=edge, line=dict(width=0), layer="above"),
]

fig.update_layout(
    width=W, height=H, autosize=False,
    margin=dict(l=0, r=0, t=0, b=0, pad=0),
    paper_bgcolor="#ffffff", plot_bgcolor="#ffffff",
    font=dict(family="Liberation Sans, Arial, sans-serif", color="#222222"),
    showlegend=False, bargap=0,
    annotations=ann, shapes=shapes,
    **layout_axes,
)

fig.write_html("out.html")
